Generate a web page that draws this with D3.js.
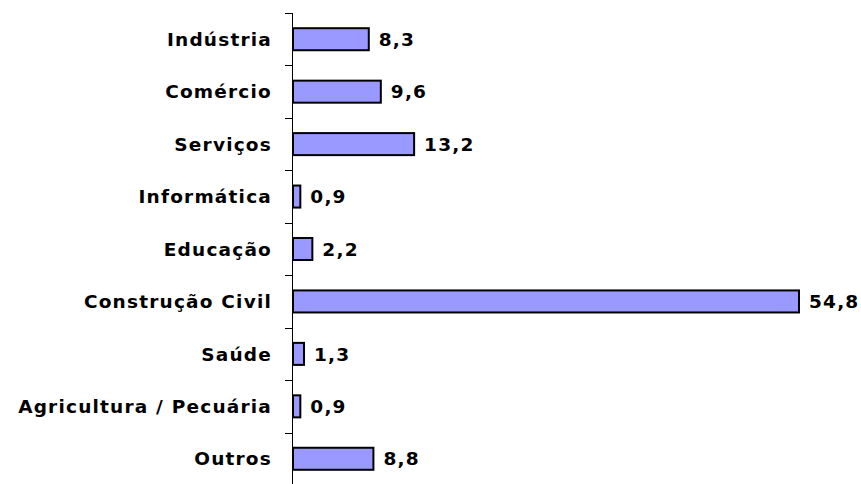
<!DOCTYPE html>
<html>
<head>
<meta charset="utf-8">
<script src="https://cdnjs.cloudflare.com/ajax/libs/d3/7.8.5/d3.min.js"></script>
<style>
  body { margin: 0; background: #fff; }
  text { font-family: "DejaVu Sans", Verdana, sans-serif; font-weight: bold; }
</style>
</head>
<body>
<div id="chart"></div>
<script>
// Sectors and their shares (%)
var categories = ["Indústria", "Comércio", "Serviços", "Informática", "Educação",
                  "Construção Civil", "Saúde", "Agricultura / Pecuária", "Outros"];
var values = [8.3, 9.6, 13.2, 0.9, 2.2, 54.8, 1.3, 0.9, 8.8];
var valueLabels = ["8,3", "9,6", "13,2", "0,9", "2,2", "54,8", "1,3", "0,9", "8,8"];

var margin = {top: 13, right: 0, bottom: 0, left: 292},
    width = 861 - margin.left,
    height = 472;

var svg = d3.select("#chart")
  .append("svg")
    .attr("width", 861)
    .attr("height", 484)
  .append("g")
    .attr("transform", "translate(" + margin.left + "," + margin.top + ")");

var x = d3.scaleLinear().domain([0, 54.8]).range([0, 507]);
var y = d3.scaleBand().domain(categories).range([0, height]).paddingInner(0.58).paddingOuter(0.29);
var band = d3.scaleBand().domain(categories).range([0, height]);

// axis line with ticks between categories
svg.append("line")
  .attr("x1", 0.5).attr("x2", 0.5)
  .attr("y1", 0).attr("y2", height)
  .attr("stroke", "#000");

svg.selectAll(".tick")
  .data(categories.concat(["end"]))
  .enter()
  .append("line")
    .attr("x1", -7).attr("x2", 0.5)
    .attr("y1", function(d, i) { return Math.round(i * band.step()) + 0.5; })
    .attr("y2", function(d, i) { return Math.round(i * band.step()) + 0.5; })
    .attr("stroke", "#000");

// bars
svg.selectAll(".bar")
  .data(values)
  .enter()
  .append("rect")
    .attr("x", 1)
    .attr("y", function(d, i) { return y(categories[i]); })
    .attr("width", function(d) { return x(d) - 1; })
    .attr("height", y.bandwidth())
    .attr("fill", "#9999ff")
    .attr("stroke", "#000")
    .attr("stroke-width", 2);

// category labels
svg.selectAll(".cat")
  .data(categories)
  .enter()
  .append("text")
    .attr("x", -20)
    .attr("y", function(d) { return band(d) + band.bandwidth() / 2; })
    .attr("dy", "0.36em")
    .attr("text-anchor", "end")
    .style("font-size", "18.5px")
    .style("letter-spacing", "1.2px")
    .text(function(d) { return d; });

// value labels
svg.selectAll(".val")
  .data(values)
  .enter()
  .append("text")
    .attr("x", function(d) { return x(d) + 10; })
    .attr("y", function(d, i) { return band(categories[i]) + band.bandwidth() / 2; })
    .attr("dy", "0.36em")
    .style("font-size", "18.5px")
    .style("letter-spacing", "1.2px")
    .text(function(d, i) { return valueLabels[i]; });
</script>
</body>
</html>
